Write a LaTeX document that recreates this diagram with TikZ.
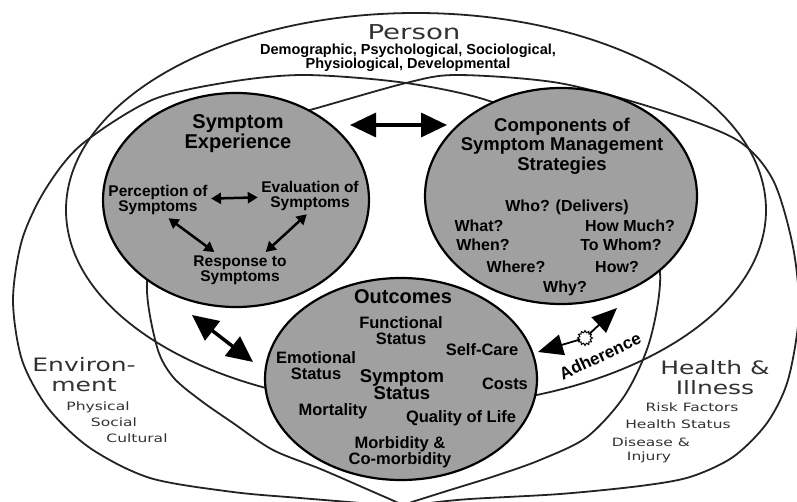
\documentclass[tikz,border=0pt]{standalone}
\usepackage{fontspec}
\setmainfont{Liberation Sans}
\newfontfamily\widefont[FakeStretch=1.35]{DejaVu Sans}
\usetikzlibrary{shapes.geometric,arrows.meta}

\definecolor{bubblegray}{RGB}{160,160,160}
\definecolor{linegray}{RGB}{35,35,35}
\definecolor{labelgray}{RGB}{50,50,50}

\begin{document}
\begin{tikzpicture}[x=1pt, y=-1pt,
    domainring/.style={ellipse, draw=linegray, line width=1.8pt, inner sep=0pt},
    domainline/.style={draw=linegray, line width=1.8pt},
    bubble/.style={ellipse, draw=black, line width=2.2pt, fill=bubblegray, inner sep=0pt},
    heading/.style={align=center, font=\bfseries\fontsize{20}{20}\selectfont},
    entry/.style={align=center, font=\bfseries\fontsize{16.5}{16}\selectfont},
    question/.style={font=\bfseries\fontsize{16}{16}\selectfont},
    minor/.style={align=center, font=\bfseries\fontsize{15.5}{15}\selectfont},
    domainlabel/.style={align=center, text=labelgray, font=\widefont\fontsize{18.5}{20}\selectfont},
    factor/.style={text=labelgray, font=\widefont\fontsize{11.5}{12}\selectfont},
    bigarrow/.style={line width=3.5pt, {Triangle[length=26pt,width=24pt]}-{Triangle[length=26pt,width=24pt]}},
    smallarrow/.style={line width=2.5pt, {Triangle[length=10pt,width=11pt]}-{Triangle[length=10pt,width=11pt]}},
    oneway/.style={line width=1.8pt, -{Triangle[length=25pt,width=21pt]}}]

    \useasboundingbox (0,0) rectangle (797,502);

    % the three domains
    \node[domainring, minimum width=700, minimum height=394] (person) at (416,210) {};

    % environment
    \draw[domainline] plot[smooth cycle] coordinates {(152,100) (229,82) (305,75) (406,83) (495,103) (585,150) (640,205) (660,272) (650,340) (625,395) (587,437) (540,460) (495,476) (450,490) (415,501) (395,507) (360,503) (300,498) (233,492) (150,478) (90,448) (48,408) (22,360) (13,300) (22,240) (45,190) (81,145)};

    % health and illness
    \draw[domainline] plot[smooth cycle] coordinates {(310,110) (406,83) (457,75) (559,83) (660,110) (737,140) (773,180) (793,247) (799,313) (788,380) (767,423) (733,457) (690,477) (640,486) (560,494) (470,499) (430,503) (410,507) (385,497) (323,470) (273,450) (233,423) (200,400) (173,377) (157,347) (147,283) (165,210) (220,150) (270,120)};

    % the three dimensions
    \node[bubble, minimum width=266, minimum height=214] (experience) at (236,200) {};

    \node[bubble, minimum width=272, minimum height=216] (strategies) at (561,196) {};

    \node[bubble, minimum width=272, minimum height=202] (outcomes) at (401,379) {};

    % person
    \node[domainlabel, font=\widefont\fontsize{20.5}{20}\selectfont] (personlabel) at (414,32) {Person};

    \node[align=center, font=\bfseries\fontsize{14.5}{14}\selectfont] (personfactors) at (408,58) {Demographic, Psychological, Sociological,\\Physiological, Developmental};

    % symptom experience
    \node[heading] (experiencetitle) at (238,134) {Symptom\\Experience};

    \node[minor] (perception) at (158,200) {Perception of\\Symptoms};

    \node[minor] (evaluation) at (310,196) {Evaluation of\\Symptoms};

    \node[minor] (response) at (240,270) {Response to\\Symptoms};

    % strategies
    \node[heading, font=\bfseries\fontsize{18.5}{19.5}\selectfont] (strategiestitle) at (562,146) {Components of\\Symptom Management\\Strategies};

    \node[question] (who) at (567,207) {Who? (Delivers)};

    \node[question] (what) at (479,226) {What?};

    \node[question] (howmuch) at (630,226) {How Much?};

    \node[question] (when) at (483,245) {When?};

    \node[question] (towhom) at (621,245) {To Whom?};

    \node[question] (where) at (516,267) {Where?};

    \node[question] (how) at (617,267) {How?};

    \node[question] (why) at (565,288) {Why?};

    % outcomes
    \node[heading] (outcomestitle) at (403,297) {Outcomes};

    \node[entry] (functional) at (401,331) {Functional\\Status};

    \node[entry] (emotional) at (316,366) {Emotional\\Status};

    \node[entry, font=\bfseries\fontsize{18.5}{17}\selectfont] (symptomstatus) at (402,385) {Symptom\\Status};

    \node[entry] (selfcare) at (482,350) {Self-Care};

    \node[entry] (costs) at (505,384) {Costs};

    \node[entry] (mortality) at (333,411) {Mortality};

    \node[entry] (quality) at (461,418) {Quality of Life};

    \node[entry] (morbidity) at (400,452) {Morbidity \&\\Co-morbidity};

    \node[entry, font=\bfseries\fontsize{17}{17}\selectfont, rotate=25] (adherence) at (600,356) {Adherence};

    % environment labels
    \node[domainlabel] (environmentlabel) at (84,375) {Environ-\\ment};

    \node[factor] (physical) at (98,407) {Physical};

    \node[factor] (social) at (114,422) {Social};

    \node[factor] (cultural) at (137,438) {Cultural};

    % health and illness labels
    \node[domainlabel] (healthlabel) at (715,378) {Health \&\\Illness};

    \node[factor] (risk) at (692,407) {Risk Factors};

    \node[factor] (status) at (678,424) {Health Status};

    \node[factor] (disease) at (651,442) {Disease \&};

    \node[factor] (injury) at (649,457) {Injury};

    % links between the dimensions
    \coordinate (linkleft) at (350,125);
    \coordinate (linkright) at (447,125);
    \draw[bigarrow] (linkleft) to (linkright);

    \coordinate (loopupper) at (192,315);
    \coordinate (looplower) at (253,362);
    \draw[bigarrow] (loopupper) to (looplower);

    \draw[smallarrow] (perception) to (evaluation);

    \draw[smallarrow] (perception.-60) to (response.145);

    \draw[smallarrow] (evaluation.-100) to (response.35);

    \node[star, star points=12, star point ratio=1.4, minimum size=15, inner sep=0pt, draw, fill=white, line width=1pt] (spark) at (585,338) {};
    \coordinate (adherenceleft) at (538,352);
    \coordinate (adherenceright) at (617,308);
    \draw[oneway] (spark) to (adherenceleft);
    \draw[oneway] (spark) to (adherenceright);

\end{tikzpicture}
\end{document}
